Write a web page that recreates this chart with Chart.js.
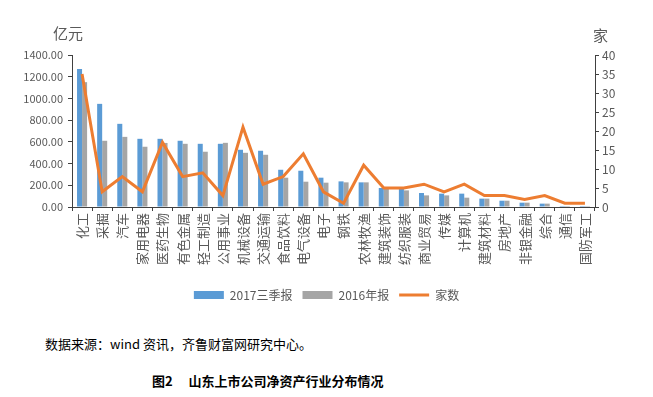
<!DOCTYPE html>
<html>
<head>
<meta charset="utf-8">
<script src="https://cdn.jsdelivr.net/npm/chart.js@4.4.0/dist/chart.umd.min.js"></script>
<style>
  body { margin: 0; background: #fff; }
  #wrap { position: relative; width: 653px; height: 397px; font-family: "Noto Sans CJK SC", "Noto Sans", sans-serif; }
  #charts { position: absolute; left: 0; top: 0; }
  #source { position: absolute; left: 45px; top: 334px; font-size: 13px; color: #000; }
  #caption { position: absolute; left: 152px; top: 371px; font-size: 13px; font-weight: bold; color: #000; }
</style>
</head>
<body>
<div id="wrap">
  <canvas id="charts" width="653" height="311"></canvas>
  <div id="source">数据来源：wind 资讯，齐鲁财富网研究中心。</div>
  <div id="caption">图2　 山东上市公司净资产行业分布情况</div>
</div>
<script>
const industries = ['化工', '采掘', '汽车', '家用电器', '医药生物', '有色金属', '轻工制造', '公用事业', '机械设备', '交通运输',
  '食品饮料', '电气设备', '电子', '钢铁', '农林牧渔', '建筑装饰', '纺织服装', '商业贸易', '传媒', '计算机',
  '建筑材料', '房地产', '非银金融', '综合', '通信', '国防军工'];
const netAssets2017Q3 = [1271, 950, 766, 628, 628, 610, 582, 582, 527, 518,
  343, 334, 270, 236, 227, 175, 168, 129, 123, 123,
  77, 58, 40, 31, 9, 9];
const netAssets2016 = [1150, 610, 646, 555, 590, 582, 509, 591, 499, 481,
  270, 233, 224, 227, 227, 175, 153, 107, 107, 86,
  77, 58, 40, 31, 9, 9];
const companyCount = [35, 4, 8, 4, 17, 8, 9, 3, 21, 6,
  8, 14, 4, 1, 11, 5, 5, 6, 4, 6,
  3, 3, 2, 3, 1, 1];
const leftTitle = '亿元';
const rightTitle = '家';

const FONT = '"Noto Sans CJK SC", "Noto Sans", sans-serif';
const TEXT = '#595959';
const AXIS = '#404040';

const axisTitles = {
  id: 'axisTitles',
  afterDraw(chart) {
    const { ctx } = chart;
    ctx.save();
    ctx.font = '15px ' + FONT;
    ctx.fillStyle = TEXT;
    ctx.textBaseline = 'middle';
    ctx.textAlign = 'left';
    ctx.fillText(leftTitle, 53, 33);
    ctx.fillText(rightTitle, 593, 35);
    ctx.restore();
  }
};

new Chart(document.querySelector('#charts'), {
  type: 'bar',
  data: {
    labels: industries,
    datasets: [
      {
        label: '2017三季报',
        data: netAssets2017Q3,
        backgroundColor: '#5B9BD5',
        categoryPercentage: 0.5,
        barPercentage: 1,
        yAxisID: 'y',
        pointStyle: 'rect',
        order: 1
      },
      {
        label: '2016年报',
        data: netAssets2016,
        backgroundColor: '#A5A5A5',
        categoryPercentage: 0.5,
        barPercentage: 1,
        yAxisID: 'y',
        pointStyle: 'rect',
        order: 1
      },
      {
        type: 'line',
        label: '家数',
        data: companyCount,
        borderColor: '#ED7D31',
        backgroundColor: '#ED7D31',
        borderWidth: 3,
        pointRadius: 0,
        pointStyle: 'line',
        tension: 0,
        yAxisID: 'y1',
        order: 0
      }
    ]
  },
  options: {
    responsive: false,
    animation: false,
    layout: { padding: { top: 55, left: 0, right: 0, bottom: 0 } },
    plugins: {
      legend: {
        position: 'bottom',
        labels: {
          usePointStyle: true,
          pointStyleWidth: 30,
          boxHeight: 8,
          color: TEXT,
          font: { family: FONT, size: 12 },
          padding: 10,
          sort: (a, b) => a.datasetIndex - b.datasetIndex
        }
      },
      tooltip: { enabled: false }
    },
    scales: {
      x: {
        grid: { drawOnChartArea: false, tickLength: 4, color: AXIS },
        border: { color: AXIS },
        ticks: {
          autoSkip: false,
          maxRotation: 90,
          minRotation: 90,
          padding: 2,
          color: TEXT,
          font: { family: FONT, size: 13 }
        },
        afterFit(scale) { scale.height = 72; }
      },
      y: {
        position: 'left',
        min: 0,
        max: 1400,
        grid: { drawOnChartArea: false, tickLength: 4, color: AXIS },
        border: { color: AXIS },
        ticks: {
          stepSize: 200,
          padding: 5,
          color: TEXT,
          font: { family: FONT, size: 11 },
          callback: v => v.toFixed(2)
        },
        afterFit(scale) { scale.width = 72; }
      },
      y1: {
        position: 'right',
        min: 0,
        max: 40,
        grid: { drawOnChartArea: false, tickLength: 4, color: AXIS },
        border: { color: AXIS },
        ticks: {
          stepSize: 5,
          padding: 3,
          color: TEXT,
          font: { family: FONT, size: 12 }
        },
        afterFit(scale) { scale.width = 58; }
      }
    }
  },
  plugins: [axisTitles]
});
</script>
</body>
</html>
